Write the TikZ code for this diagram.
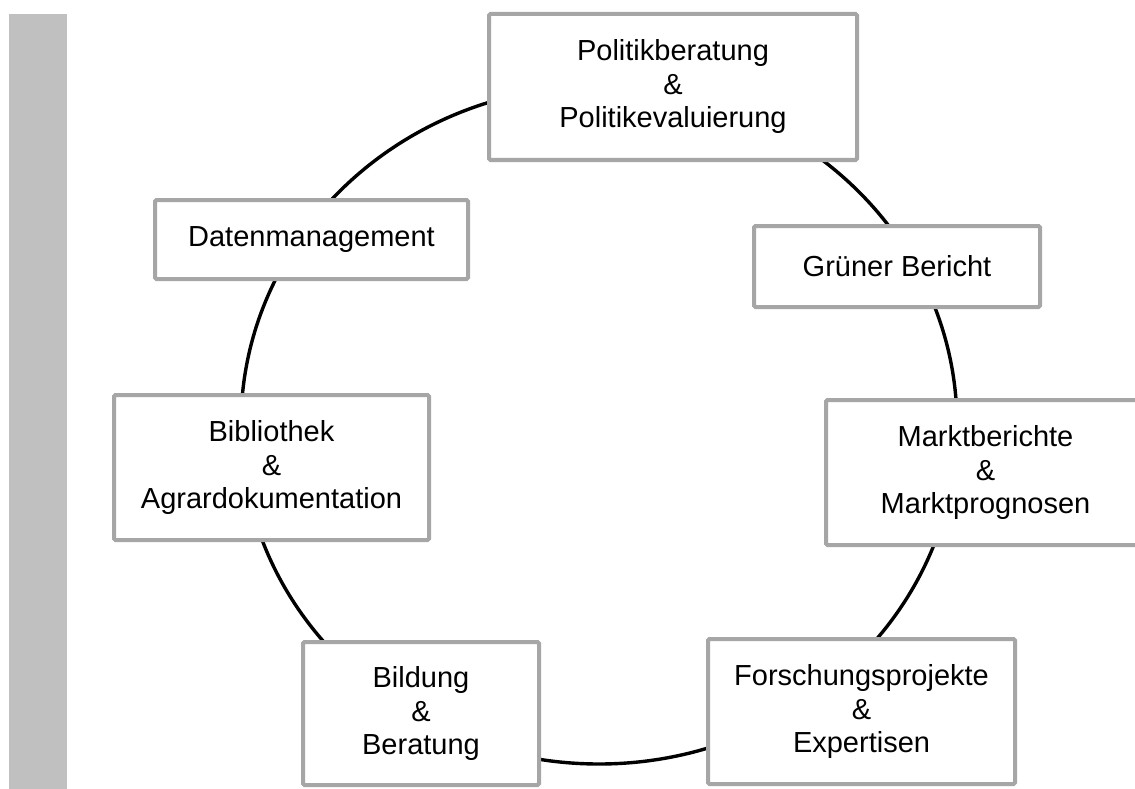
\documentclass[tikz,border=0pt]{standalone}
\usepackage{fontspec}
\setmainfont{Liberation Sans}
\definecolor{boxgray}{RGB}{166,166,166}
\definecolor{bargray}{RGB}{192,192,192}
\tikzset{
  topic/.style={draw=boxgray, line width=4pt, fill=white, rounded corners=1.5pt,
    align=center, inner sep=0pt, font=\fontsize{29}{33.5}\selectfont},
  ring/.style={draw=black, line width=3.4pt}
}
\begin{document}
\begin{tikzpicture}[x=1pt,y=-1pt]
\useasboundingbox (0,0) rectangle (1135,789);
\clip (0,0) rectangle (1135,789);
\fill[bargray] (9,14) rectangle (67,789);
\draw[ring] (599,425) ellipse [x radius=358, y radius=339];
\node[topic, minimum width=368pt, minimum height=146pt] (pol) at (673,87) {Politikberatung\\\&\\Politikevaluierung};
\node[topic, minimum width=313pt, minimum height=79pt] (dat) at (311.5,239.5) {Datenmanagement};
\node[topic, minimum width=286pt, minimum height=81pt] (gru) at (897,266.5) {Grüner Bericht};
\node[topic, minimum width=315pt, minimum height=145pt] (bib) at (271.5,467.5) {Bibliothek\\\&\\Agrardokumentation};
\node[topic, minimum width=319pt, minimum height=145pt] (mkt) at (985.5,472.5) {Marktberichte\\\&\\Marktprognosen};
\node[topic, minimum width=236pt, minimum height=143pt] (bil) at (421,713.5) {Bildung\\\&\\Beratung};
\node[topic, minimum width=307pt, minimum height=145pt] (for) at (861.5,711.5) {Forschungsprojekte\\\&\\Expertisen};
\end{tikzpicture}
\end{document}
